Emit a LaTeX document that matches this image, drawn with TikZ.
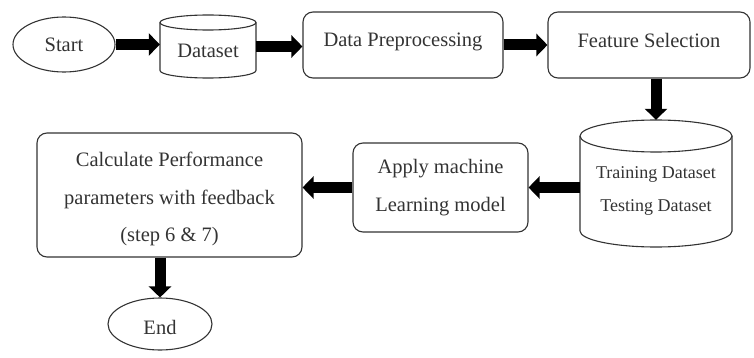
\documentclass[tikz,border=0pt]{standalone}
\usepackage{fontspec}
\setmainfont{Liberation Serif}
\usetikzlibrary{arrows.meta,shapes.geometric}
\begin{document}
\begin{tikzpicture}[x=1pt,y=1pt,
  shapeline/.style={draw=black!80, line width=1.1pt},
  procbox/.style={shapeline, rounded corners=10pt, inner sep=0pt, align=center, text=black!80, font=\fontsize{20.5}{37.5}\selectfont},
  termnode/.style={shapeline, ellipse, inner sep=0pt, text=black!80, font=\fontsize{20.5}{24}\selectfont},
  dbtext/.style={inner sep=0pt, align=center, text=black!80},
  flowarrow/.style={line width=11pt, -{Triangle[length=11pt,width=22pt]}},
]
\useasboundingbox (0,0) rectangle (754,-358);

% nodes
\node[termnode, minimum width=102pt, minimum height=55pt] (start) at (64,-44.5) {Start};
\node[dbtext, font=\fontsize{20.5}{24}\selectfont, minimum width=96pt, minimum height=63pt] (ds) at (208,-46.5) {\rule{0pt}{23pt}Dataset};
\node[procbox, minimum width=200pt, minimum height=66pt, text depth=10pt] (dp) at (403,-45) {Data Preprocessing};
\node[procbox, minimum width=202pt, minimum height=66pt, text depth=10pt] (fs) at (649,-45) {Feature Selection};
\node[dbtext, font=\fontsize{18}{33}\selectfont, minimum width=152pt, minimum height=127pt] (td) at (656,-183.5) {\rule{0pt}{26pt}Training Dataset\\Testing Dataset};
\node[procbox, minimum width=175pt, minimum height=89pt] (ap) at (440.5,-187.5) {Apply machine\\Learning model};
\node[procbox, minimum width=265pt, minimum height=124pt] (calc) at (169.5,-195) {\rule{0pt}{22.5pt}Calculate Performance\\parameters with feedback\\(step 6 \& 7)};
\node[termnode, minimum width=104pt, minimum height=52pt] (stop) at (160,-324) {\rule{0pt}{22pt}End};

% cylinders
\draw[shapeline] (160,-22.5) -- (160,-70.5) arc[start angle=180, end angle=360, x radius=48pt, y radius=7.5pt] -- (256,-22.5);
\draw[shapeline] (208,-22.5) ellipse[x radius=48pt, y radius=7.5pt];
\draw[shapeline] (580,-136) -- (580,-231) arc[start angle=180, end angle=360, x radius=76pt, y radius=16pt] -- (732,-136);
\draw[shapeline] (656,-136) ellipse[x radius=76pt, y radius=16pt];

% connectors
\draw[flowarrow] (start.east) -- (start.east -| ds.west);
\draw[flowarrow] (ds.east) -- (ds.east -| dp.west);
\draw[flowarrow] (dp.east) -- (fs.west);
\draw[flowarrow] (fs.south -| td.north) -- (td.north);
\draw[flowarrow] (td.west |- ap.east) -- (ap.east);
\draw[flowarrow] (ap.west) -- (ap.west -| calc.east);
\draw[flowarrow] (calc.south -| stop.north) -- (stop.north);
\end{tikzpicture}
\end{document}
